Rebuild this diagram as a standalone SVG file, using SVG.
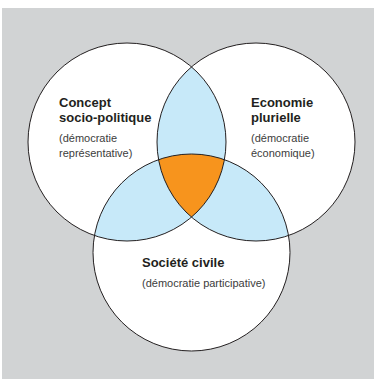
<svg xmlns="http://www.w3.org/2000/svg" width="376" height="381" viewBox="0 0 376 381">
<style>
.bg{fill:#d1d3d4}
.circ{fill:#ffffff}
.outline{fill:none;stroke:#231f20;stroke-width:1}
.blue{fill:#c7e9f9}
.orange{fill:#f7941d}
.title{font-family:"Liberation Sans",Arial,sans-serif;font-size:13px;font-weight:bold;fill:#231f20}
.sub{font-family:"Liberation Sans",Arial,sans-serif;font-size:11px;fill:#3c3c3c}
</style>
<defs>
<clipPath id="cR"><circle cx="256" cy="142" r="99"/></clipPath>
<clipPath id="cB"><circle cx="191.5" cy="252.5" r="98.5"/></clipPath>
<clipPath id="cL"><circle cx="127" cy="142" r="99"/></clipPath>
</defs>
<rect class="bg" x="2" y="8" width="372" height="371"/>
<g id="fills">
<circle class="circ" cx="127" cy="142" r="99"/>
<circle class="circ" cx="256" cy="142" r="99"/>
<circle class="circ" cx="191.5" cy="252.5" r="98.5"/>
<circle class="blue" cx="127" cy="142" r="99" clip-path="url(#cR)"/>
<circle class="blue" cx="127" cy="142" r="99" clip-path="url(#cB)"/>
<circle class="blue" cx="256" cy="142" r="99" clip-path="url(#cB)"/>
<g clip-path="url(#cL)"><g clip-path="url(#cR)"><circle class="orange" cx="191.5" cy="252.5" r="98.5"/></g></g>
</g>
<g id="node-concept">
<circle class="outline" cx="127" cy="142" r="99"/>
<text class="title" x="59" y="107">Concept</text>
<text class="title" x="59" y="122">socio-politique</text>
<text class="sub" x="59" y="142">(démocratie</text>
<text class="sub" x="59" y="157">représentative)</text>
</g>
<g id="node-economie">
<circle class="outline" cx="256" cy="142" r="99"/>
<text class="title" x="251" y="107">Economie</text>
<text class="title" x="251" y="122">plurielle</text>
<text class="sub" x="251" y="142">(démocratie</text>
<text class="sub" x="251" y="157">économique)</text>
</g>
<g id="node-societe">
<circle class="outline" cx="191.5" cy="252.5" r="98.5"/>
<text class="title" x="142" y="267">Société civile</text>
<text class="sub" x="142" y="287">(démocratie participative)</text>
</g>
<g id="connectors"></g>
</svg>
